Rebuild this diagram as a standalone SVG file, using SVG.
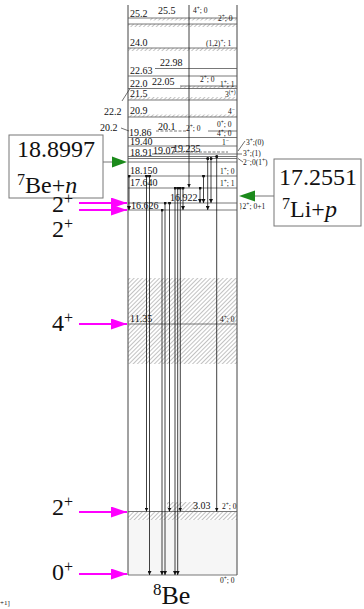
<svg xmlns="http://www.w3.org/2000/svg" width="364" height="609" viewBox="0 0 364 609">
<style>
text{font-family:"Liberation Serif","Times New Roman","DejaVu Serif",serif;fill:#111}
.lv{font-size:10px}
.sp{font-size:7.5px}
.big{font-size:24px}
.sup{font-size:16px}
.lvl{stroke:#555;stroke-width:0.8}
.edge{stroke:#444;stroke-width:1}
.tr{stroke:#111;stroke-width:0.8;fill:none;marker-end:url(#ah)}
.trd{marker-start:url(#dot)}
.mag{stroke:#ff00ff;stroke-width:2;marker-end:url(#mh)}
.box{fill:#fff;stroke:#777;stroke-width:1}
.thin{stroke:#333;stroke-width:0.7}
</style>
<defs>
<pattern id="hatch" width="3" height="3" patternUnits="userSpaceOnUse" patternTransform="rotate(45)"><line x1="0" y1="0" x2="0" y2="3" stroke="#666" stroke-width="0.8"/></pattern>
<marker id="ah" viewBox="0 0 6 6" refX="6" refY="3" markerWidth="4" markerHeight="4" markerUnits="userSpaceOnUse" orient="auto"><path d="M0,0L6,3L0,6z" fill="#111"/></marker>
<marker id="dot" viewBox="0 0 4 4" refX="2" refY="2" markerWidth="3" markerHeight="3" markerUnits="userSpaceOnUse"><circle cx="2" cy="2" r="2" fill="#111"/></marker>
<marker id="mh" viewBox="0 0 16 11" refX="16" refY="5.5" markerWidth="16" markerHeight="11" markerUnits="userSpaceOnUse" orient="auto"><path d="M0,0L16,5.5L0,11z" fill="#ff00ff"/></marker>
</defs>
<rect width="364" height="609" fill="#fff"/>

<g id="scheme-frame">
<rect x="128" y="520" width="109" height="55" fill="#f6f6f6"/>
<rect x="128" y="278" width="109" height="86" fill="url(#hatch)"/>
<rect x="128" y="512" width="109" height="8" fill="url(#hatch)"/>
<rect x="167" y="502" width="31" height="9" fill="url(#hatch)"/>
<line class="edge" x1="128" y1="5" x2="128" y2="575"/>
<line class="edge" x1="237" y1="5" x2="237" y2="575"/>
</g>

<g id="level-25">
<line class="lvl" x1="128" y1="18" x2="237" y2="18"/>
<rect x="150" y="18" width="87" height="2.5" fill="url(#hatch)"/>
<line class="lvl" x1="128" y1="24" x2="237" y2="24" stroke-width="1"/>
<rect x="128" y="24" width="109" height="3" fill="url(#hatch)"/>
<text class="lv" x="130" y="17">25.2</text>
<text class="lv" x="158" y="14">25.5</text>
<text class="sp" x="193" y="13">4<tspan baseline-shift="super" font-size="5.5">+</tspan>; 0</text>
<text class="sp" x="218" y="21">2<tspan baseline-shift="super" font-size="5.5">+</tspan>; 0</text>
</g>
<g id="level-24">
<line class="lvl" x1="128" y1="48" x2="237" y2="48"/>
<rect x="128" y="48" width="109" height="3" fill="url(#hatch)"/>
<text class="lv" x="130" y="46">24.0</text>
<text class="sp" x="206" y="46">(1,2)<tspan baseline-shift="super" font-size="5.5">+</tspan>; 1</text>
</g>
<g id="level-22.98">
<line class="lvl" x1="155" y1="68.5" x2="237" y2="68.5"/>
<text class="lv" x="160" y="66">22.98</text>
</g>
<g id="level-22.63">
<line class="lvl" x1="128" y1="76" x2="237" y2="76"/>
<text class="lv" x="130" y="74">22.63</text>
</g>
<g id="level-22.0">
<line class="lvl" x1="180" y1="86" x2="237" y2="86"/>
<rect x="180" y="86" width="57" height="2" fill="url(#hatch)"/>
<line class="lvl" x1="128" y1="88.5" x2="237" y2="88.5"/>
<text class="lv" x="130" y="86.5">22.0</text>
<text class="lv" x="152" y="85">22.05</text>
<text class="sp" x="200" y="82">2<tspan baseline-shift="super" font-size="5.5">+</tspan>; 0</text>
<text class="sp" x="220" y="87">1<tspan baseline-shift="super" font-size="5.5">+</tspan>; 1</text>
</g>
<g id="level-21.5">
<rect x="128" y="97" width="109" height="2.5" fill="url(#hatch)"/>
<line class="lvl" x1="128" y1="100" x2="237" y2="100"/>
<text class="lv" x="130" y="97">21.5</text>
<text class="sp" x="225" y="97">3<tspan baseline-shift="super" font-size="5.5">(+)</tspan></text>
</g>
<g id="level-20.9">
<rect x="128" y="114.5" width="109" height="2.5" fill="url(#hatch)"/>
<line class="lvl" x1="128" y1="117" x2="237" y2="117"/>
<text class="lv" x="130" y="114">20.9</text>
<text class="sp" x="228" y="114">4<tspan baseline-shift="super" font-size="5.5">−</tspan></text>
</g>
<g id="level-20.1">
<line class="lvl" x1="156" y1="131" x2="186" y2="131" stroke-dasharray="3 1.5"/>
<line class="lvl" x1="208" y1="131" x2="237" y2="131"/>
<text class="lv" x="158" y="129.5">20.1</text>
<text class="sp" x="186" y="131">2<tspan baseline-shift="super" font-size="5.5">+</tspan>; 0</text>
<text class="sp" x="217" y="127">0<tspan baseline-shift="super" font-size="5.5">+</tspan>; 0</text>
<text class="sp" x="217" y="136">4<tspan baseline-shift="super" font-size="5.5">+</tspan>; 0</text>
</g>
<g id="level-19.86">
<line class="lvl" x1="128" y1="137.5" x2="237" y2="137.5"/>
<text class="lv" x="129" y="136">19.86</text>
</g>
<g id="level-19.40">
<line class="lvl" x1="128" y1="146" x2="237" y2="146"/>
<text class="lv" x="130" y="145">19.40</text>
<text class="sp" x="222" y="145">1<tspan baseline-shift="super" font-size="5.5">−</tspan></text>
</g>
<g id="level-19.235">
<line class="lvl" x1="172" y1="152" x2="228" y2="152" stroke-dasharray="3 1.5"/>
<text class="lv" x="173" y="151.5">19.235</text>
<text class="sp" x="246" y="145">3<tspan baseline-shift="super" font-size="5.5">+</tspan>;(0)</text>
<text class="sp" x="243" y="156">3<tspan baseline-shift="super" font-size="5.5">+</tspan>;(1)</text>
<text class="sp" x="243" y="165">2<tspan baseline-shift="super" font-size="5.5">−</tspan>;0(1<tspan baseline-shift="super" font-size="5.5">+</tspan>)</text>
</g>
<g id="level-19.07">
<line class="lvl" x1="152" y1="154" x2="237" y2="154"/>
<text class="lv" x="153" y="154">19.07</text>
</g>
<g id="level-18.91">
<line class="lvl" x1="128" y1="156.5" x2="237" y2="156.5"/>
<line class="lvl" x1="128" y1="158.5" x2="237" y2="158.5"/>
<text class="lv" x="130" y="155.5">18.91</text>
</g>
<g id="level-18.8997">
<line class="lvl" x1="128" y1="162" x2="237" y2="162"/>
</g>
<g id="level-18.150">
<line class="lvl" x1="128" y1="176" x2="237" y2="176"/>
<text class="lv" x="130" y="174">18.150</text>
<text class="sp" x="220" y="174">1<tspan baseline-shift="super" font-size="5.5">+</tspan>; 0</text>
</g>
<g id="level-17.640">
<line class="lvl" x1="128" y1="188" x2="237" y2="188"/>
<text class="lv" x="130" y="186">17.640</text>
<text class="sp" x="220" y="186">1<tspan baseline-shift="super" font-size="5.5">+</tspan>; 1</text>
</g>
<g id="level-16.922">
<line class="lvl" x1="128" y1="203" x2="237" y2="203"/>
<text class="lv" x="170" y="201">16.922</text>
</g>
<g id="level-16.626">
<line class="lvl" x1="128" y1="210" x2="237" y2="210"/>
<text class="lv" x="131" y="208.5">16.626</text>
<text class="sp" x="239" y="209">}2<tspan baseline-shift="super" font-size="5.5">+</tspan>; 0+1</text>
</g>
<g id="level-11.35">
<line class="lvl" x1="128" y1="324" x2="237" y2="324"/>
<text class="lv" x="130" y="322">11.35</text>
<text class="sp" x="220" y="322">4<tspan baseline-shift="super" font-size="5.5">+</tspan>; 0</text>
</g>
<g id="level-3.03">
<line class="lvl" x1="128" y1="511.5" x2="237" y2="511.5" stroke-width="1.2"/>
<text class="lv" x="193" y="509">3.03</text>
<text class="sp" x="222" y="509">2<tspan baseline-shift="super" font-size="5.5">+</tspan>; 0</text>
</g>
<g id="level-0">
<line class="lvl" x1="128" y1="575" x2="237" y2="575" stroke-width="1.4"/>
<text class="sp" x="220" y="583">0<tspan baseline-shift="super" font-size="5.5">+</tspan>; 0</text>
</g>

<g id="side-labels">
<text class="lv" x="104" y="115">22.2</text>
<text class="lv" x="100" y="131">20.2</text>
</g>

<g id="threshold-be7n">
<rect class="box" x="9" y="135" width="94" height="63"/>
<text x="56" y="157" font-size="24" text-anchor="middle">18.8997</text>
<text x="17" y="193" font-size="24"><tspan font-size="16" dy="-8">7</tspan><tspan dy="8">Be+</tspan><tspan font-style="italic">n</tspan></text>
</g>
<g id="threshold-li7p">
<rect class="box" x="274" y="159" width="87" height="67"/>
<text x="318" y="185" font-size="24" text-anchor="middle">17.2551</text>
<text x="282" y="217" font-size="24"><tspan font-size="16" dy="-8">7</tspan><tspan dy="8">Li+</tspan><tspan font-style="italic">p</tspan></text>
</g>
<g id="spin-2a"><text class="big" x="52" y="212">2<tspan class="sup" dy="-8">+</tspan></text></g>
<g id="spin-2b"><text class="big" x="52" y="237">2<tspan class="sup" dy="-8">+</tspan></text></g>
<g id="spin-4"><text class="big" x="52" y="331">4<tspan class="sup" dy="-8">+</tspan></text></g>
<g id="spin-2c"><text class="big" x="52" y="515">2<tspan class="sup" dy="-8">+</tspan></text></g>
<g id="spin-0"><text class="big" x="52" y="580">0<tspan class="sup" dy="-8">+</tspan></text></g>
<g id="nucleus"><text x="153" y="604" font-size="26"><tspan font-size="17" dy="-9">8</tspan><tspan dy="9">Be</tspan></text></g>
<g id="fragment"><text x="0" y="605" font-size="7">+1]</text></g>

<g id="connectors">
<line class="tr" x1="189" y1="5" x2="189" y2="187.5"/>
<line class="tr trd" x1="146.5" y1="176" x2="146.5" y2="511.5"/>
<line class="tr trd" x1="149.5" y1="176" x2="149.5" y2="575"/>
<line class="tr trd" x1="162" y1="210" x2="162" y2="575"/>
<line class="tr trd" x1="165" y1="203" x2="165" y2="575"/>
<line class="tr trd" x1="169.5" y1="203" x2="169.5" y2="511.5"/>
<line class="tr trd" x1="175" y1="188" x2="175" y2="575"/>
<line class="tr trd" x1="177.7" y1="188" x2="177.7" y2="575"/>
<line class="tr trd" x1="180.3" y1="188" x2="180.3" y2="511.5"/>
<line class="tr trd" x1="183" y1="188" x2="183" y2="210"/>
<line class="tr trd" x1="200" y1="188" x2="200" y2="203"/>
<line class="tr trd" x1="203.5" y1="176" x2="203.5" y2="203"/>
<line class="tr trd" x1="207.7" y1="158.5" x2="207.7" y2="210"/>
<line class="tr trd" x1="211" y1="158.5" x2="211" y2="203"/>
<line class="tr trd" x1="216.7" y1="156.5" x2="216.7" y2="511.5"/>
<line class="tr trd" x1="129" y1="176" x2="129" y2="210"/>
<line class="thin" x1="122" y1="101" x2="130" y2="88.5"/>
<line class="thin" x1="121" y1="128" x2="129" y2="131"/>
<line class="thin" x1="238" y1="151" x2="245" y2="141"/>
<line class="thin" x1="237" y1="154" x2="242" y2="154"/>
<line class="thin" x1="238" y1="158.5" x2="243" y2="162"/>
<line class="mag" x1="79" y1="203" x2="127" y2="203"/>
<line class="mag" x1="79" y1="210" x2="127" y2="210"/>
<line class="mag" x1="79" y1="324" x2="127" y2="324"/>
<line class="mag" x1="79" y1="512" x2="127" y2="512"/>
<line class="mag" x1="79" y1="574" x2="127" y2="574"/>
<line stroke="#777" stroke-width="1" x1="103" y1="162" x2="112" y2="162"/>
<path d="M112,156.5L127,162L112,167.5z" fill="#1b8a1b"/>
<line stroke="#777" stroke-width="1" x1="255" y1="196" x2="274" y2="196"/>
<path d="M239,196L255,190.5L255,201.5z" fill="#1b8a1b"/>
</g>
</svg>
